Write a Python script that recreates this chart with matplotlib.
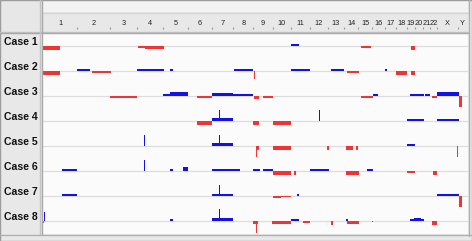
import matplotlib
matplotlib.use("Agg")
import matplotlib.pyplot as plt
from matplotlib.lines import Line2D
from matplotlib.patches import Rectangle
import numpy as np

W, H = 472, 241

# chromosome sizes (Mb, hg19-ish)
chrom_names = [str(i) for i in range(1, 23)] + ["X", "Y"]
chrom_len = [249, 243, 198, 191, 181, 171, 159, 146, 141, 136, 135, 134,
             115, 107, 103, 90, 81, 78, 59, 63, 48, 51, 155, 59]

case_labels = ["Case 1", "Case 2", "Case 3", "Case 4",
               "Case 5", "Case 6", "Case 7", "Case 8"]

# segments: (start Mb, end Mb, log2 ratio) on the concatenated genome
case1 = [(0, 124, -0.35), (692, 746, -0.2), (746, 885, -0.3),
         (1811, 1870, 0.2), (2327, 2400, -0.18), (2689, 2722, -0.4)]
case2 = [(0, 124, -0.35), (246, 344, 0.2), (360, 495, -0.2),
         (687, 746, 0.25), (746, 885, 0.2), (929, 953, 0.2),
         (1399, 1538, 0.2), (1541, 1549, -0.8), (1816, 1952, 0.2),
         (2104, 2201, 0.25), (2221, 2311, -0.18), (2503, 2513, 0.2),
         (2581, 2662, -0.38), (2689, 2722, -0.35)]
case3 = [(490, 690, -0.2), (880, 929, 0.2), (929, 1062, 0.37),
         (1124, 1234, -0.2), (1234, 1391, 0.35), (1391, 1538, 0.2),
         (1541, 1582, -0.3), (1609, 1682, -0.18), (2327, 2411, -0.2),
         (2411, 2450, 0.2), (2687, 2784, 0.18), (2795, 2830, 0.18),
         (2847, 2881, -0.22), (2881, 3040, 0.38), (3040, 3067, -1.1)]
case4 = [(1124, 1234, -0.4), (1234, 1391, 0.27), (1287, 1294, 1.1),
         (1538, 1582, -0.35), (1680, 1816, -0.35), (2019, 2024, 1.1),
         (2659, 2786, 0.2), (2883, 3042, 0.2)]
case5 = [(741, 748, 1.1), (1234, 1391, 0.27), (1287, 1294, 1.1),
         (1554, 1577, -0.35), (1559, 1568, -1.1), (1682, 1816, -0.35),
         (2074, 2089, -0.35), (2218, 2267, -0.35), (2291, 2303, -0.35),
         (2659, 2722, 0.2), (3028, 3033, -1.1)]
case6 = [(141, 251, 0.18), (741, 748, 1.1), (929, 953, 0.18),
         (1021, 1062, 0.4), (1234, 1391, 0.2), (1391, 1440, 0.18),
         (1538, 1587, 0.2), (1609, 1682, 0.18), (1682, 1816, -0.35),
         (1835, 1852, -0.35), (1949, 2089, 0.18), (2218, 2311, -0.35),
         (2371, 2413, 0.18), (2659, 2722, -0.2), (2855, 2883, -0.4)]
case7 = [(141, 251, 0.18), (1234, 1391, 0.18), (1287, 1294, 1.1),
         (1682, 1738, -0.2), (1738, 1816, -0.12), (1859, 1870, 0.18),
         (2883, 2981, 0.18), (2981, 3042, 0.22), (3040, 3067, -1.1)]
case8 = [(4, 11, 0.9), (0, 7, -0.15), (929, 953, 0.18),
         (1234, 1391, 0.3), (1287, 1294, 1.2), (1538, 1572, -0.25),
         (1558, 1568, -1.2), (1674, 1816, -0.25), (1816, 1870, 0.18),
         (1903, 1952, -0.2), (2104, 2123, -0.35), (2218, 2230, 0.18),
         (2225, 2311, -0.3), (2408, 2415, -0.12), (2683, 2786, 0.2),
         (2713, 2764, 0.3), (2847, 2883, -0.4)]
cases = [case1, case2, case3, case4, case5, case6, case7, case8]

GAIN = "#1212e6"
LOSS = "#f03434"
ROW_STEP = 2.5
FONT = ["Liberation Sans", "DejaVu Sans"]
TICK_FONT = ["Liberation Sans Narrow", "Liberation Sans", "DejaVu Sans"]


def px_box(x0, y0, x1, y1):
    return [x0 / W, 1 - y1 / H, (x1 - x0) / W, (y1 - y0) / H]


def hline(y, x0, x1, color, lw=1.0):
    fig.add_artist(Line2D([x0 / W, x1 / W], [1 - y / H, 1 - y / H],
                          color=color, lw=lw, transform=fig.transFigure))


def vline(x, y0, y1, color, lw=1.0):
    fig.add_artist(Line2D([x / W, x / W], [1 - y0 / H, 1 - y1 / H],
                          color=color, lw=lw, transform=fig.transFigure))


fig = plt.figure(figsize=(W / 100, H / 100), dpi=100)
fig.patch.set_facecolor("#e8e8e8")

bounds = np.concatenate([[0], np.cumsum(chrom_len)])
genome = bounds[-1]
mb_px = genome / 423.0
xlim = (-1 * mb_px, genome + 2 * mb_px)
ylim = ((len(cases) - 1) * ROW_STEP + 1.3, -1.3)

# main chart
ax = fig.add_axes(px_box(42, 33, 468, 234))
ax.set_facecolor("#fbfbfb")
ax.set_xlim(*xlim)
ax.set_ylim(*ylim)
for i, segs in enumerate(cases):
    base = i * ROW_STEP
    ax.axhline(base, color="#dddddd", lw=0.9, zorder=1)
    for s, e, v in segs:
        ax.bar(s, -v, width=e - s, bottom=base, align="edge",
               color=GAIN if v > 0 else LOSS, linewidth=0, zorder=2)
ax.set_xticks([])
ax.set_yticks([])
for sp in ax.spines.values():
    sp.set_visible(False)

# left label panel
axl = fig.add_axes(px_box(0, 33, 40, 234))
axl.set_facecolor("white")
axl.set_xlim(0, 40)
axl.set_ylim(*ylim)
for i, lab in enumerate(case_labels):
    axl.text(4.5, i * ROW_STEP - 0.43, lab, ha="left", va="center",
             fontsize=7.6, fontweight="bold", family=FONT, color="#111111")
axl.axis("off")

# chromosome header
axh = fig.add_axes(px_box(42, 13, 468, 31))
axh.set_facecolor("white")
axh.set_xlim(*xlim)
axh.set_ylim(0, 1)
mids = (bounds[:-1] + bounds[1:]) / 2
for m, name in zip(mids, chrom_names):
    axh.text(m, 0.44, name, ha="center", va="center", fontsize=5.3,
             family=TICK_FONT, color="#222222")
axh.vlines(bounds[1:-1], 0.1, 0.25, color="#999999", lw=0.8)
axh.axis("off")

# top band and top-left cell
axt = fig.add_axes(px_box(42, 0, 468, 12))
axt.set_facecolor("#f3f3f3")
axt.set_xticks([])
axt.set_yticks([])
for sp in axt.spines.values():
    sp.set_visible(False)
axc = fig.add_axes(px_box(0, 0, 40, 32))
axc.set_facecolor("#e7e7e7")
axc.set_xticks([])
axc.set_yticks([])
for sp in axc.spines.values():
    sp.set_visible(False)

# frame lines
hline(12.5, 42, 468, "#d4d4d4")
hline(31.5, 0, 468, "#c4c4c4")
hline(33.0, 0, 468, "#a8a8a8")
vline(40.0, 0, 234, "#c4c4c4")
vline(41.5, 0, 234, "#a8a8a8")
vline(468.5, 0, 236, "#b0b0b0")
hline(234.5, 0, 472, "#b0b0b0")
fig.add_artist(Rectangle((0, 0), 1, 1, transform=fig.transFigure,
                         fill=False, ec="#9c9c9c", lw=1.0))

fig.savefig("out.png", dpi=100)
